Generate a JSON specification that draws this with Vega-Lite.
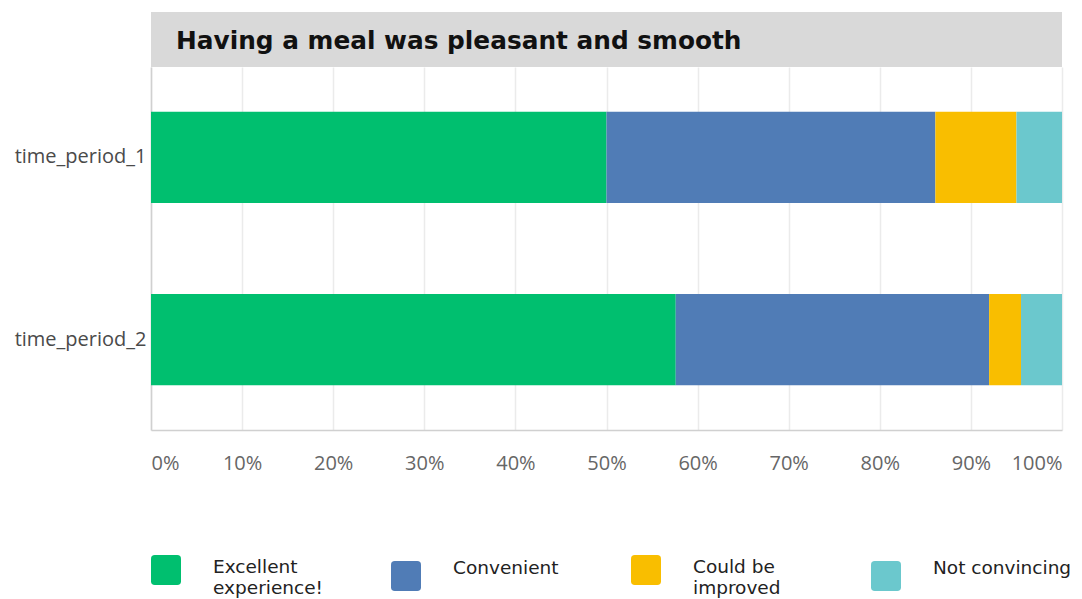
{
  "$schema": "https://vega.github.io/schema/vega-lite/v6.json",
  "background": "white",
  "padding": {"top": 12, "left": 14, "right": 5, "bottom": 2},
  "datasets": {
    "title": [{"question": "Having a meal was pleasant and smooth"}],
    "bars": [
      {"period": "time_period_1", "rating": "Excellent experience!", "rank": 1, "share": 50.0},
      {"period": "time_period_1", "rating": "Convenient", "rank": 2, "share": 36.1},
      {"period": "time_period_1", "rating": "Could be improved", "rank": 3, "share": 8.9},
      {"period": "time_period_1", "rating": "Not convincing", "rank": 4, "share": 5.0},
      {"period": "time_period_2", "rating": "Excellent experience!", "rank": 1, "share": 57.6},
      {"period": "time_period_2", "rating": "Convenient", "rank": 2, "share": 34.4},
      {"period": "time_period_2", "rating": "Could be improved", "rank": 3, "share": 3.5},
      {"period": "time_period_2", "rating": "Not convincing", "rank": 4, "share": 4.5}
    ]
  },
  "spacing": 0,
  "vconcat": [
    {
      "width": 911,
      "height": 55,
      "view": {"fill": "#d9d9d9", "stroke": null},
      "data": {"name": "title"},
      "mark": {"type": "text", "align": "left", "baseline": "middle", "dx": 25, "dy": 2, "font": "DejaVu Sans", "fontWeight": "bold", "fontSize": 24.8, "color": "#111"},
      "encoding": {
        "x": {"datum": 0, "type": "quantitative", "scale": {"domain": [0, 1]}, "axis": null},
        "text": {"field": "question"}
      }
    },
    {
      "width": 911,
      "height": 363,
      "view": {"stroke": null},
      "data": {"name": "bars"},
      "mark": {"type": "bar"},
      "encoding": {
        "y": {
          "field": "period", "type": "nominal",
          "scale": {"paddingInner": 0.5, "paddingOuter": 0.245},
          "axis": {"title": null, "ticks": false, "domain": true, "domainColor": "#d0d0d0", "domainWidth": 1.5, "labelFont": "Open Sans", "labelFontSize": 20, "labelColor": "#4a4a4a", "labelPadding": 5}
        },
        "x": {
          "field": "share", "type": "quantitative", "stack": "normalize",
          "scale": {"domain": [0, 1]},
          "axis": {"title": null, "format": ".0%", "values": [0, 0.1, 0.2, 0.3, 0.4, 0.5, 0.6, 0.7, 0.8, 0.9, 1.0], "ticks": false, "domainColor": "#d0d0d0", "domainWidth": 1.5, "gridColor": "#ebebeb", "gridWidth": 1.5, "labelFont": "Open Sans", "labelFontSize": 20, "labelColor": "#666", "labelPadding": 23, "labelFlush": true}
        },
        "color": {
          "field": "rating", "type": "nominal",
          "scale": {"domain": ["Excellent experience!", "Convenient", "Could be improved", "Not convincing"], "range": ["#00bf6f", "#507cb6", "#f9be00", "#6bc8cd"]},
          "legend": {
            "title": null, "orient": "bottom", "direction": "horizontal", "columns": 4, "gridAlign": "all",
            "symbolType": "M-1,-0.75Q-1,-1,-0.75,-1L0.75,-1Q1,-1,1,-0.75L1,0.75Q1,1,0.75,1L-0.75,1Q-1,1,-1,0.75Z",
            "symbolSize": 900, "symbolStrokeWidth": 0, "symbolOpacity": 1,
            "labelFont": "DejaVu Sans", "labelFontSize": 18.5, "labelColor": "#222", "labelOffset": 32, "labelLimit": 220,
            "labelExpr": "datum.label == 'Excellent experience!' ? ['Excellent', 'experience!'] : datum.label == 'Could be improved' ? ['Could be', 'improved'] : datum.label",
            "columnPadding": 39, "offset": 82,
            "encode": {"labels": {"update": {"dy": {"signal": "indexof(['Excellent experience!', 'Could be improved'], datum.label) >= 0 ? -3 : -8"}}}}
          }
        },
        "order": {"field": "rank", "type": "quantitative"}
      }
    }
  ]
}
